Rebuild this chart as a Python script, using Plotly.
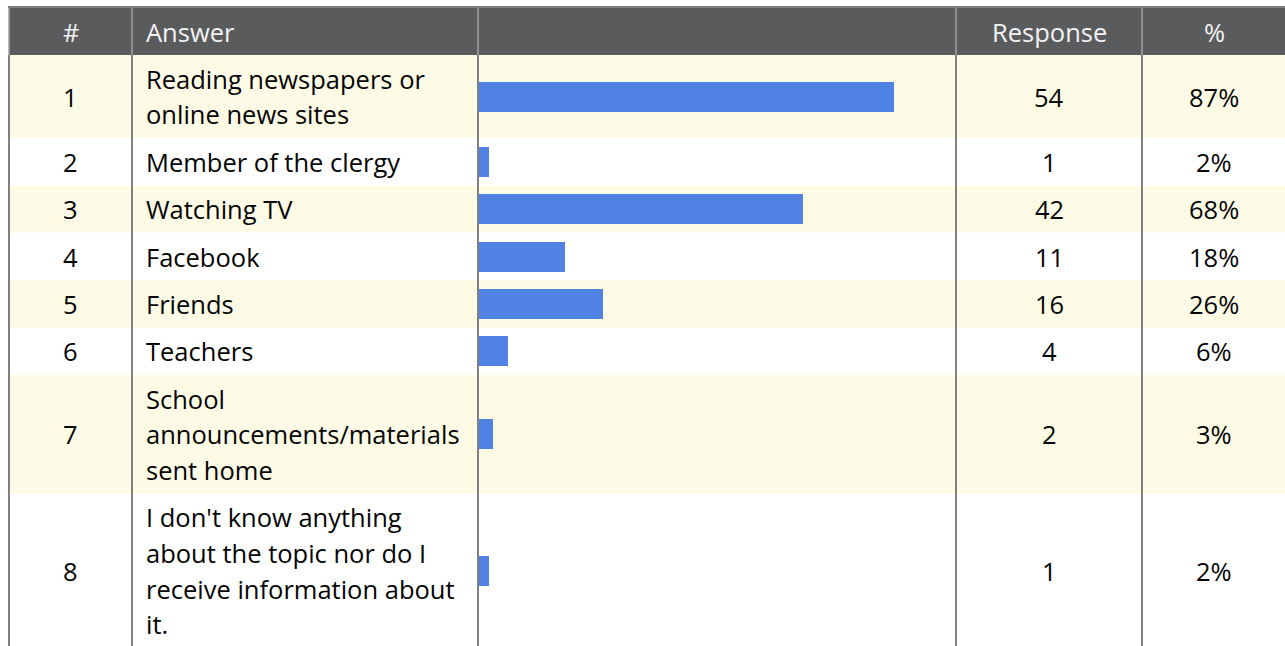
import plotly.graph_objects as go

# Survey results: source of information
row_ids = ["1", "2", "3", "4", "5", "6", "7", "8"]
answers = [
    "Reading newspapers or\nonline news sites",
    "Member of the clergy",
    "Watching TV",
    "Facebook",
    "Friends",
    "Teachers",
    "School\nannouncements/materials\nsent home",
    "I don't know anything\nabout the topic nor do I\nreceive information about\nit.",
]
responses = [54, 1, 42, 11, 16, 4, 2, 1]
percents = [87, 2, 68, 18, 26, 6, 3, 2]
headers = ["#", "Answer", "", "Response", "%"]

W, H = 1285, 646
# column boundaries in pixels
col_edges = [9, 132, 478, 956, 1142, 1286]
header_top, header_bot = 8, 55
line_h = 35.6
pad = 11.8
text_left = 144

FONT = "Open Sans, DejaVu Sans, sans-serif"
FSIZE = 25.5
TXT = "#050505"
STRIPE = "#fdfbe6"
HEADER_BG = "#5a5b5d"
BAR = "#4f82e3"
GRID = "#808080"


def px(x):
    return x / W


# row extents derived from the number of wrapped lines
row_tops, row_bots = [], []
y = header_bot
for a in answers:
    n = len(a.split("\n"))
    h = pad + line_h * n
    row_tops.append(y)
    row_bots.append(y + h)
    y += h
row_mid = [(t + b) / 2 for t, b in zip(row_tops, row_bots)]

fig = go.Figure()
fig.add_trace(go.Bar(
    x=percents, y=row_mid, orientation="h", width=30,
    marker=dict(color=BAR, line=dict(width=0)),
    hoverinfo="skip", showlegend=False,
))

shapes = []
# striped rows
for i, (t, b) in enumerate(zip(row_tops, row_bots)):
    if i % 2 == 0:
        shapes.append(dict(type="rect", xref="paper", yref="y", layer="below",
                           x0=px(col_edges[0]), x1=1.01, y0=t, y1=b,
                           fillcolor=STRIPE, line=dict(width=0)))
# header band and top rule
shapes.append(dict(type="rect", xref="paper", yref="y", layer="below",
                   x0=px(col_edges[0]), x1=1.01, y0=header_top, y1=header_bot,
                   fillcolor=HEADER_BG, line=dict(width=0)))
shapes.append(dict(type="line", xref="paper", yref="y", layer="above",
                   x0=px(col_edges[0] - 1), x1=1.01, y0=7, y1=7,
                   line=dict(color="#7f7f7f", width=2)))
# vertical column rules
for xe in col_edges:
    shapes.append(dict(type="line", xref="paper", yref="y", layer="above",
                       x0=px(xe), x1=px(xe), y0=header_top, y1=header_bot,
                       line=dict(color="#a0a0a0", width=1.5)))
    shapes.append(dict(type="line", xref="paper", yref="y", layer="above",
                       x0=px(xe), x1=px(xe), y0=header_bot, y1=H + 10,
                       line=dict(color=GRID, width=2)))

annotations = []


def label(x, yv, text, color=TXT, align="center"):
    annotations.append(dict(
        xref="paper", yref="y", x=px(x), y=yv, text=text, showarrow=False,
        xanchor=align, yanchor="middle",
        font=dict(family=FONT, size=FSIZE, color=color)))


hdr_mid = (header_top + header_bot) / 2
hc = "#f2f2f2"
label((col_edges[0] + col_edges[1]) / 2, hdr_mid, headers[0], hc)
label(text_left, hdr_mid, headers[1], hc, "left")
label((col_edges[3] + col_edges[4]) / 2, hdr_mid, headers[3], hc)
label((col_edges[4] + col_edges[5]) / 2, hdr_mid, headers[4], hc)

for i in range(len(answers)):
    m = row_mid[i]
    label((col_edges[0] + col_edges[1]) / 2, m, row_ids[i])
    lines = answers[i].split("\n")
    n = len(lines)
    for k, ln in enumerate(lines):
        label(text_left, m + (k - (n - 1) / 2) * line_h, ln, align="left")
    label((col_edges[3] + col_edges[4]) / 2, m, str(responses[i]))
    label((col_edges[4] + col_edges[5]) / 2, m, f"{percents[i]}%")

fig.update_layout(
    width=W, height=H, margin=dict(l=0, r=0, t=0, b=0),
    paper_bgcolor="white", plot_bgcolor="rgba(0,0,0,0)",
    xaxis=dict(domain=[px(col_edges[2] + 1), px(col_edges[3])], range=[0, 100],
               visible=False, fixedrange=True),
    yaxis=dict(domain=[0, 1], range=[H, 0], visible=False, fixedrange=True),
    shapes=shapes, annotations=annotations, bargap=0,
)

fig.write_html("out.html")
